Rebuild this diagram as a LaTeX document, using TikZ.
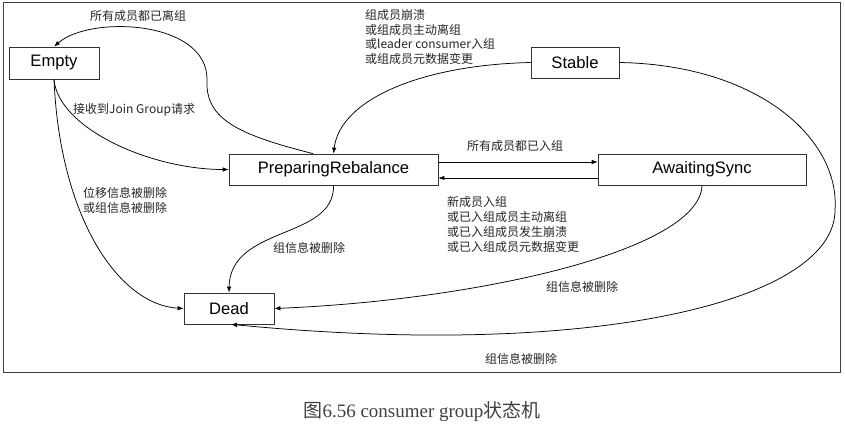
\documentclass[tikz,border=0pt]{standalone}
\usepackage{fontspec}
\setmainfont{Liberation Serif}
\newfontfamily\cjk{Noto Sans CJK SC}
\newfontfamily\boxfont{Liberation Sans}
\usetikzlibrary{arrows.meta}
\begin{document}
\begin{tikzpicture}[x=1pt,y=-1pt,
  state/.style={draw=black!80,line width=0.7pt,fill=white,inner sep=0pt,
    font=\boxfont\fontsize{16.6}{18}\selectfont},
  lbl/.style={inner sep=0pt,text=black!85,font=\cjk\fontsize{12}{14.8}\selectfont},
  conn/.style={draw=black,line width=0.75pt,-{Latex[length=6pt,width=4.5pt]}}]
\useasboundingbox (0,0) rectangle (845,425);
\draw[draw=black!75,line width=1pt] (3,3) rectangle (840.5,372.5);
% states
\node[state,minimum width=90pt,minimum height=32pt] (E) at (54,63) {Empty};
\node[state,minimum width=88pt,minimum height=31pt] (S) at (575,62.5) {Stable};
\node[state,minimum width=209pt,minimum height=31pt] (P) at (333.5,169.5) {PreparingRebalance};
\node[state,minimum width=208pt,minimum height=31pt] (A) at (702,169.5) {AwaitingSync};
\node[state,minimum width=90pt,minimum height=31pt] (D) at (229,308.5) {Dead};
% connectors
\draw[conn] ([xshift=-20.5pt]P.north) .. controls (240,135) and (205,120) .. (207,80)
  .. controls (208,20) and (90,15) .. (E.north);
\draw[conn] (E.south) .. controls (58,128) and (150,169.5) .. (P.west);
\draw[conn] (E.south) .. controls (60,220) and (120,305) .. (D.west);
\draw[conn] (P.south) .. controls (335,240) and (230,225) .. (D.north);
\draw[conn] (A.south) .. controls (700,250) and (480,300) .. (D.east);
\draw[conn] (S.east) .. controls (760,65) and (840,140) .. (835,210)
  .. controls (835,300) and (600,360) .. ([xshift=2pt]D.south);
\draw[conn] (S.west) .. controls (420,65) and (340,100) .. (P.north);
\draw[conn] ([yshift=7.5pt]P.east) -- ([yshift=7.5pt]A.west);
\draw[conn] ([yshift=-8.5pt]A.west) -- ([yshift=-8.5pt]P.east);
% labels
\node[lbl] (l1) at (138,16) {所有成员都已离组};
\node[lbl,anchor=west,align=left] (l2) at (365,37) {组成员崩溃\\或组成员主动离组\\或leader consumer入组\\或组成员元数据变更};
\node[lbl,anchor=west] (l3) at (73,110) {接收到Join Group请求};
\node[lbl] (l4) at (515,146) {所有成员都已入组};
\node[lbl,anchor=west,align=left] (l5) at (447,224.5) {新成员入组\\或已入组成员主动离组\\或已入组成员发生崩溃\\或已入组成员元数据变更};
\node[lbl,anchor=west,align=left] (l6) at (83,200.5) {位移信息被删除\\或组信息被删除};
\node[lbl,anchor=west] (l7) at (273,248) {组信息被删除};
\node[lbl,anchor=west] (l8) at (546,287) {组信息被删除};
\node[lbl,anchor=west] (l9) at (485,359) {组信息被删除};
\node[inner sep=0pt,text=black!75,font=\fontsize{19}{21}\selectfont] (cap) at (422,412) {{\cjk 图}6.56 consumer group{\cjk 状态机}};
\end{tikzpicture}
\end{document}
